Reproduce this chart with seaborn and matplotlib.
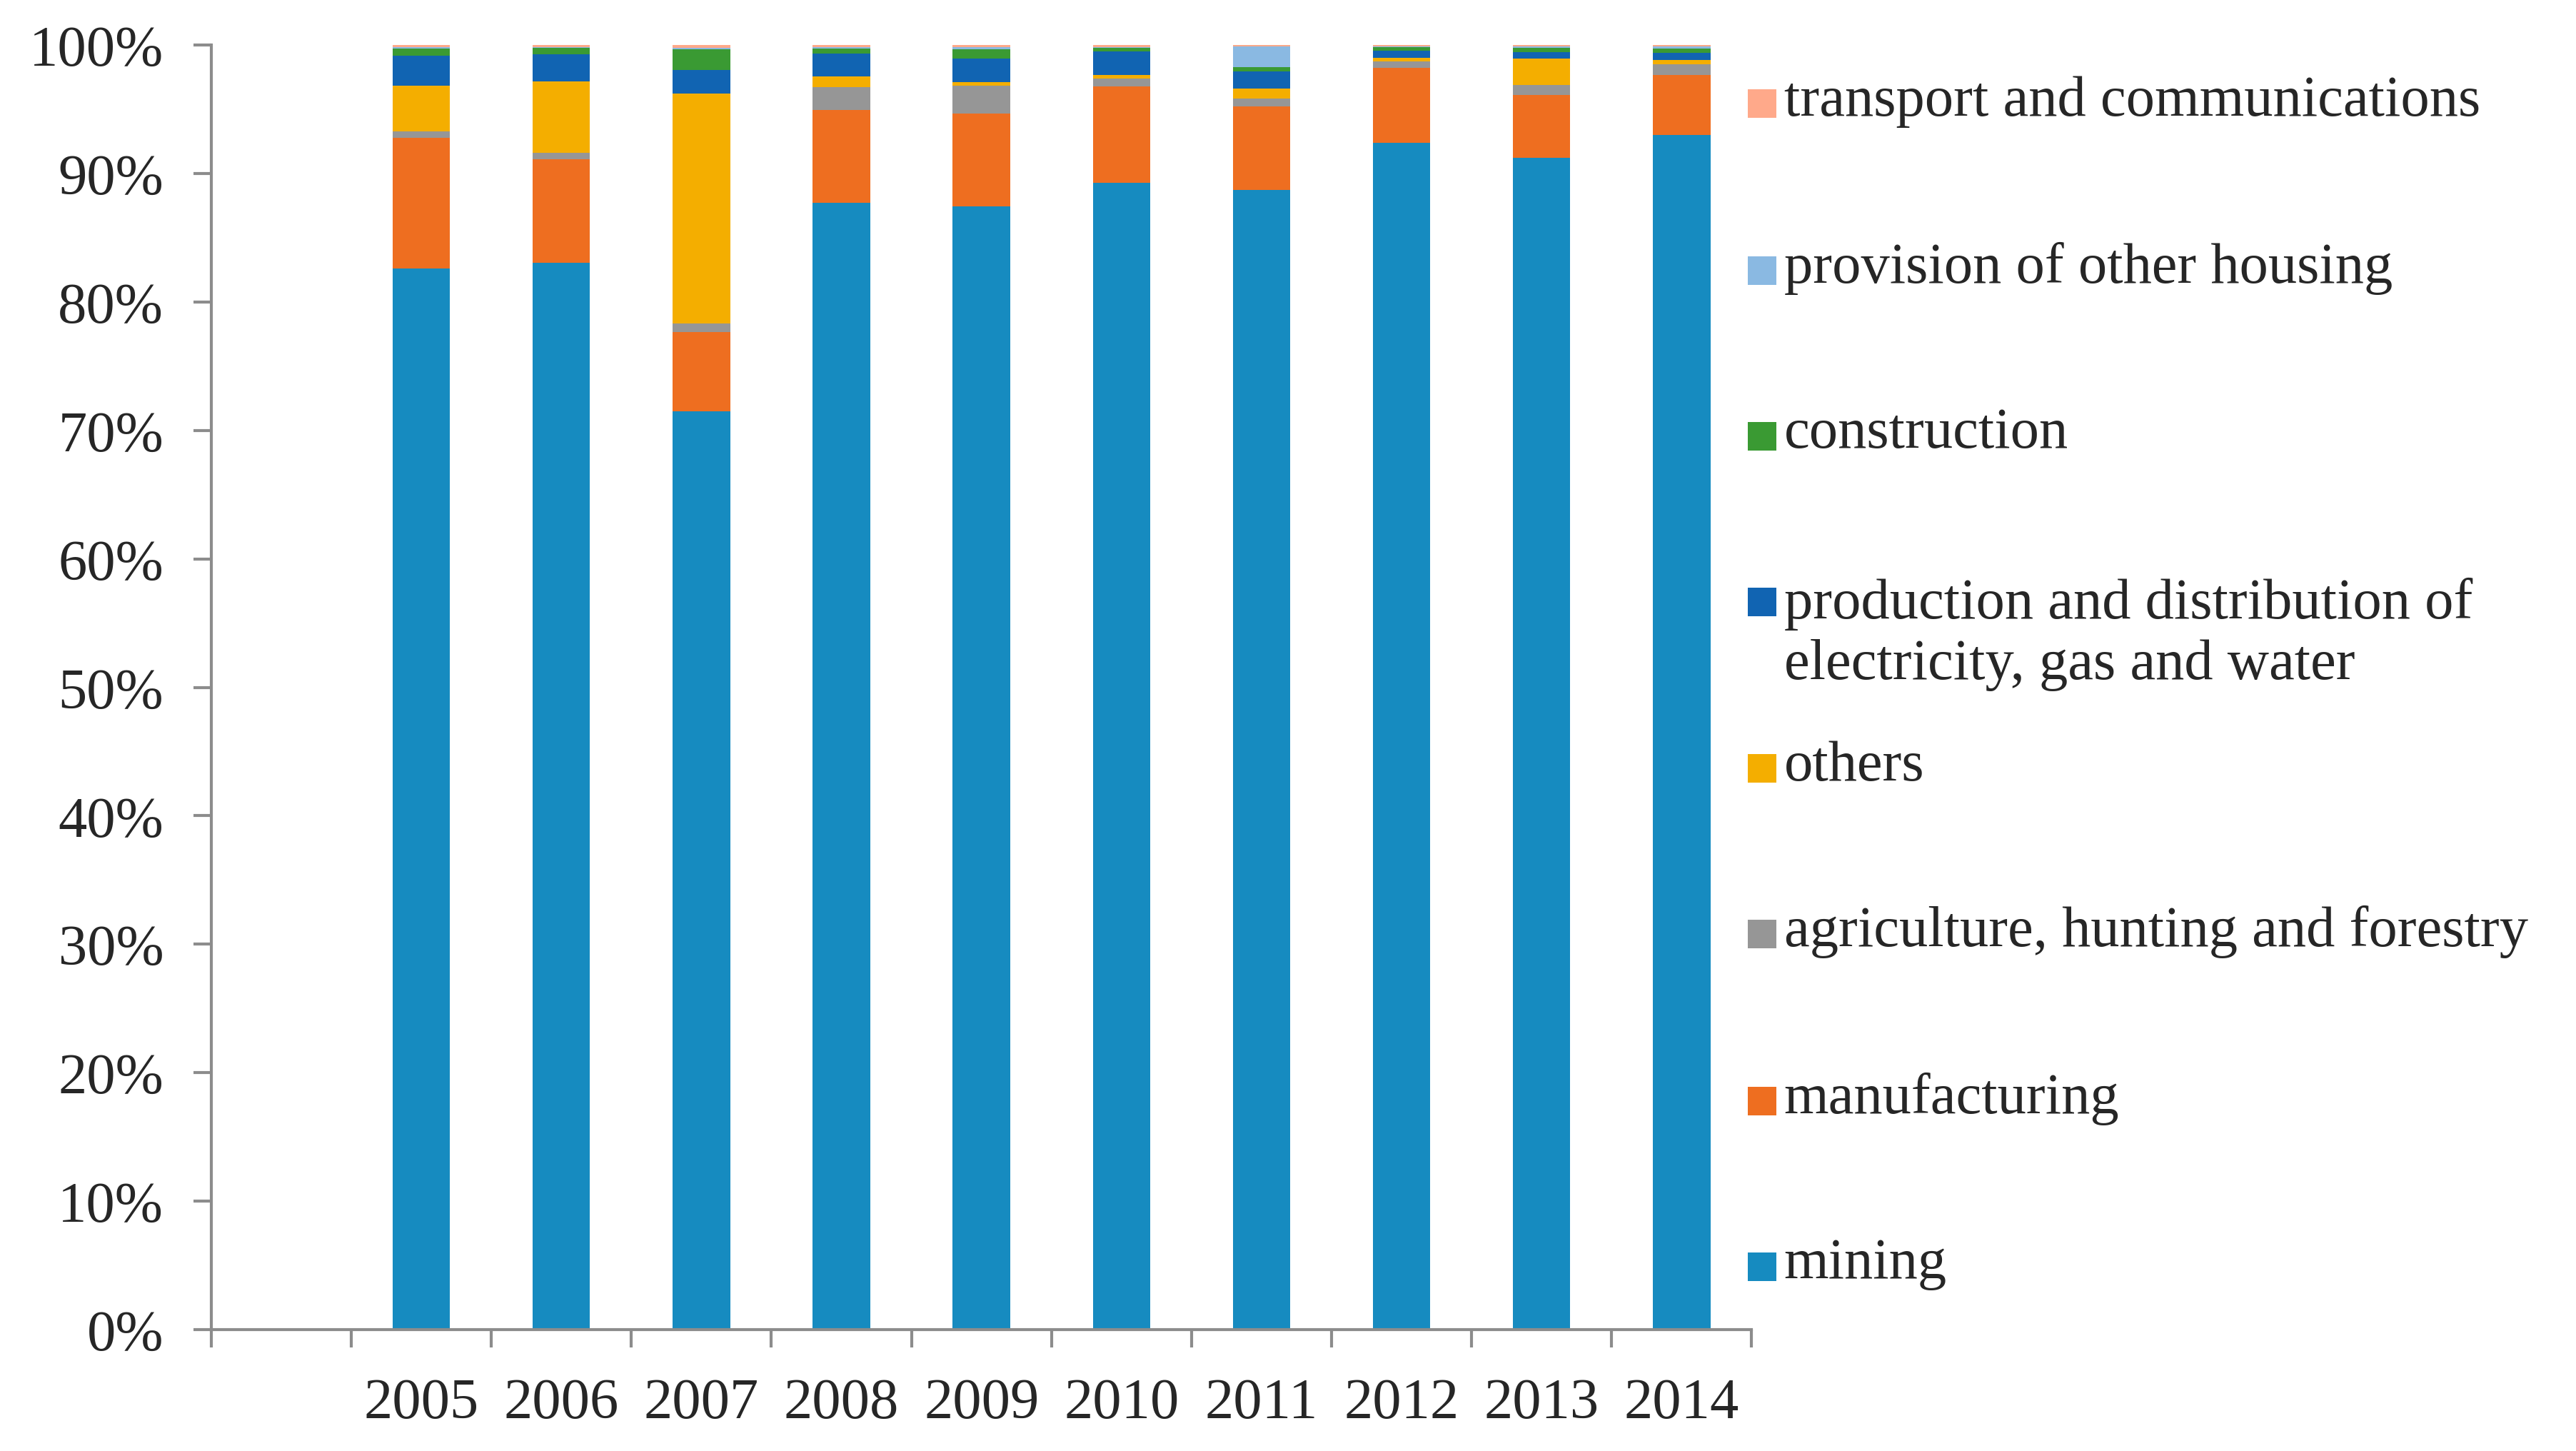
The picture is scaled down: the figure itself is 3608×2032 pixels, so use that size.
import numpy as np
import pandas as pd
import matplotlib
matplotlib.use("Agg")
import matplotlib.pyplot as plt
import matplotlib.patches as mpatches
import seaborn as sns

# ── data (shares in %) ─────────────────────────────────────────────────────────
years = [2005, 2006, 2007, 2008, 2009, 2010, 2011, 2012, 2013, 2014]

mining        = [82.6, 83.06, 71.5, 87.72, 87.44, 89.28, 88.72, 92.39, 91.22, 93.0]
manufacturing = [10.15, 8.07, 6.17, 7.22, 7.22, 7.52, 6.5, 5.83, 4.89, 4.67]
agriculture   = [0.5, 0.48, 0.67, 1.78, 2.17, 0.59, 0.61, 0.5, 0.78, 0.83]
others        = [3.6, 5.56, 17.89, 0.83, 0.28, 0.28, 0.78, 0.28, 2.06, 0.33]
electricity   = [2.33, 2.11, 1.83, 1.78, 1.83, 1.83, 1.33, 0.56, 0.5, 0.56]
construction  = [0.55, 0.5, 1.61, 0.39, 0.72, 0.28, 0.33, 0.28, 0.33, 0.33]
housing       = [0.1, 0.06, 0.11, 0.11, 0.17, 0.06, 1.61, 0.07, 0.11, 0.17]
transport     = [0.17, 0.17, 0.22, 0.17, 0.17, 0.17, 0.11, 0.09, 0.11, 0.11]

series_names = ["mining", "manufacturing", "agriculture, hunting and forestry",
                "others", "production and distribution of\nelectricity, gas and water",
                "construction", "provision of other housing",
                "transport and communications"]
series_vals = [mining, manufacturing, agriculture, others, electricity,
               construction, housing, transport]
colors = ["#168BC0", "#EE6E20", "#969696", "#F4AE00", "#1164B2",
          "#3A9A33", "#8AB9E2", "#FFA98A"]

yticks = list(range(0, 101, 10))

# ── style ─────────────────────────────────────────────────────────────────────
sns.set_style("white")
plt.rcParams['font.family'] = ['Liberation Serif', 'DejaVu Serif']
FS = 29
AXC = "#8C8C8C"

fig = plt.figure(figsize=(18.04, 10.165), dpi=200)
ax = fig.add_axes([0.082, 0.0836, 0.598, 0.8849])

# stacked bars: draw cumulative totals from the top series down
df = pd.DataFrame({"year": years})
cum = np.zeros(len(years))
for name, vals in zip(series_names, series_vals):
    cum = cum + np.array(vals)
    df[name] = cum.copy()

for name, col in reversed(list(zip(series_names, colors))):
    sns.barplot(data=df, x="year", y=name, color=col, saturation=1,
                width=0.41, native_scale=True, linewidth=0, ax=ax)

ax.set_xlim(years[0] - 1.5, years[-1] + 0.5)
ax.set_ylim(0, 100)
ax.set_xlabel("")
ax.set_ylabel("")

# ticks between categories, labels at centres
ax.set_xticks(np.arange(years[0] - 1.5, years[-1] + 1, 1.0))
ax.set_xticklabels([])
ax.set_xticks(years, minor=True)
ax.set_xticklabels([str(y) for y in years], minor=True, fontsize=FS)
ax.tick_params(axis="x", which="major", direction="out", length=9,
               width=1.5, color=AXC, bottom=True)
ax.tick_params(axis="x", which="minor", length=0, pad=24)

ax.set_yticks(yticks)
ax.set_yticklabels([f"{t}%" for t in yticks], fontsize=FS)
ax.tick_params(axis="y", direction="out", length=9, width=1.5,
               color=AXC, left=True, pad=15)

sns.despine(ax=ax, top=True, right=True)
for s in ["left", "bottom"]:
    ax.spines[s].set_color(AXC)
    ax.spines[s].set_linewidth(1.5)

# ── legend (top entry = top of stack) ─────────────────────────────────────────
leg_y = [0.127, 0.241, 0.356, 0.470, 0.561, 0.699, 0.813, 0.928]
sq = 40
for i, (name, col) in enumerate(zip(series_names, colors)):
    y = leg_y[i]
    yc = 0.585 if "\n" in name else y
    w = sq / 3608
    h = sq / 2033
    fig.patches.append(mpatches.Rectangle((0.6785, yc - h / 2), w, h,
                                          transform=fig.transFigure,
                                          color=col, lw=0))
    fig.text(0.6925, y + 0.002, name, fontsize=FS, va="center", ha="left",
             linespacing=1.2)

fig.savefig("out.png", dpi=200)
